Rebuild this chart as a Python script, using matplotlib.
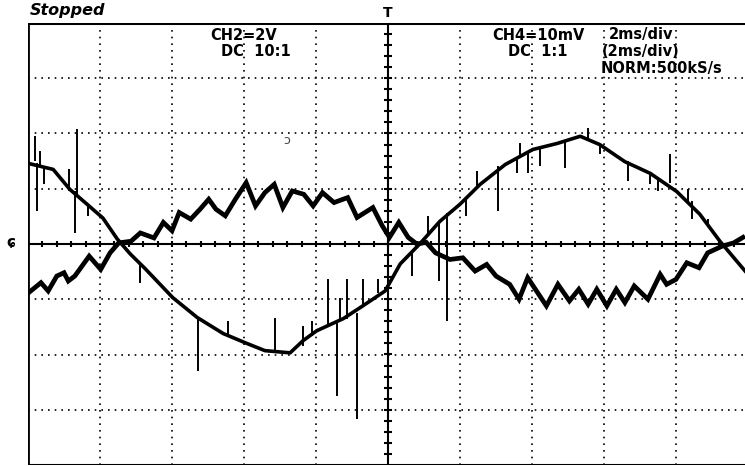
"""Oscilloscope capture: CH2 (line-to-neutral voltage) and CH4 (ripple current)."""
import numpy as np
import matplotlib.pyplot as plt

# screen units: time in divisions (2 ms/div), amplitude in divisions
ch2_t = [0.00, 0.35, 0.58, 0.82, 1.04, 1.24, 1.42, 1.63, 2.01, 2.35, 2.71, 3.04,
         3.29, 3.64, 3.82, 4.01, 4.38, 4.65, 4.96, 5.17, 5.44, 5.72, 6.00, 6.28,
         6.63, 7.01, 7.35, 7.67, 7.94, 8.29, 8.64, 9.01, 9.33, 9.61, 9.96]
ch2_v = [1.46, 1.35, 0.99, 0.72, 0.47, 0.09, -0.18, -0.45, -0.97, -1.33, -1.62, -1.80,
         -1.93, -1.97, -1.75, -1.57, -1.35, -1.12, -0.85, -0.36, 0.00, 0.41, 0.72, 1.08,
         1.44, 1.71, 1.82, 1.95, 1.80, 1.49, 1.28, 0.95, 0.54, 0.05, -0.49]

ch4_t = [0.01, 0.18, 0.28, 0.40, 0.50, 0.56, 0.65, 0.85, 1.01, 1.14, 1.26, 1.43,
         1.56, 1.75, 1.88, 2.00, 2.10, 2.26, 2.39, 2.51, 2.61, 2.74, 2.88, 3.03,
         3.16, 3.29, 3.42, 3.54, 3.67, 3.83, 3.96, 4.09, 4.25, 4.44, 4.57, 4.79,
         4.92, 5.02, 5.15, 5.28, 5.40, 5.53, 5.66, 5.86, 6.04, 6.21, 6.37, 6.50,
         6.69, 6.82, 6.94, 7.20, 7.36, 7.52, 7.65, 7.78, 7.90, 8.04, 8.17, 8.29,
         8.42, 8.61, 8.78, 8.87, 9.00, 9.15, 9.32, 9.44, 9.64, 9.80, 9.93]
ch4_v = [-0.88, -0.70, -0.85, -0.58, -0.52, -0.67, -0.58, -0.22, -0.46, -0.16, 0.02, 0.05,
         0.20, 0.11, 0.39, 0.24, 0.57, 0.45, 0.63, 0.81, 0.63, 0.51, 0.81, 1.11,
         0.69, 0.93, 1.08, 0.66, 0.96, 0.90, 0.69, 0.93, 0.75, 0.84, 0.48, 0.66,
         0.33, 0.12, 0.39, 0.12, 0.00, 0.03, -0.16, -0.28, -0.25, -0.49, -0.37, -0.58,
         -0.73, -1.00, -0.61, -1.12, -0.73, -1.03, -0.82, -1.09, -0.82, -1.12, -0.82, -1.06,
         -0.76, -1.00, -0.55, -0.73, -0.64, -0.34, -0.43, -0.16, -0.04, 0.02, 0.12]

# switching spikes on CH2: time, from, to
spike_t = [0.10, 0.125, 0.17, 0.22, 0.57, 0.65, 0.68, 0.83, 1.56, 2.36, 2.78, 3.43,
           3.82, 3.94, 4.17, 4.29, 4.33, 4.43, 4.57, 4.65, 4.86, 5.33, 5.56, 5.71,
           5.82, 6.08, 6.24, 6.53, 6.79, 6.83, 6.94, 7.11, 7.46, 7.78, 7.94, 8.33,
           8.64, 8.75, 8.92, 9.17, 9.22, 9.44]
spike_lo = [1.50, 0.60, 1.41, 1.08, 0.96, 0.20, 0.87, 0.51, -0.71, -2.30, -1.66, -1.93,
            -1.84, -1.66, -1.50, -2.75, -1.39, -1.36, -3.16, -1.14, -0.89, -0.58, 0.20, -0.67,
            -1.39, 0.51, 1.03, 0.60, 1.28, 1.57, 1.28, 1.41, 1.37, 1.90, 1.63, 1.14,
            1.08, 0.96, 1.10, 0.78, 0.45, 0.33]
spike_hi = [1.95, 1.46, 1.68, 1.41, 1.36, 0.96, 2.08, 0.69, -0.34, -1.36, -1.39, -1.34,
            -1.48, -1.39, -0.63, -1.39, -0.98, -0.63, -1.25, -0.63, -0.63, -0.13, 0.51, 0.38,
            0.56, 0.83, 1.32, 1.41, 1.56, 1.83, 1.65, 1.72, 1.84, 2.10, 1.81, 1.50,
            1.28, 1.21, 1.63, 0.99, 0.78, 0.45]

W, H = 745, 466
fig = plt.figure(figsize=(W / 100, H / 100), dpi=100)
x0, x1, y0, y1 = 28, 745, 23, 465
ax = fig.add_axes([x0 / W, 1 - y1 / H, (x1 - x0) / W, (y1 - y0) / H])
ax.set_xlim(0, (x1 - x0) / 72)
ax.set_ylim(-4, 4)
ax.axis("off")

# graticule
dot = (0, (1, 3))
for t in range(1, 10):
    if t != 5:
        ax.axvline(t, color="black", lw=1.2, ls=dot)
for v in range(-3, 4):
    if v != 0:
        ax.axhline(v, color="black", lw=1.2, ls=dot)
ax.axvline(5, color="black", lw=1.5)
ax.axhline(0, color="black", lw=1.5)
minor_t = np.arange(0.2, 10, 0.2)
ax.vlines(minor_t, -0.06, 0.06, color="black", lw=1.5)
minor_v = np.arange(-3.8, 4, 0.2)
ax.hlines(minor_v, 4.94, 5.06, color="black", lw=1.5)
# frame
ax.axvline(0, color="black", lw=2)
ax.axhline(4, color="black", lw=2.2)
ax.axhline(-4, color="black", lw=1.5)

# traces
ax.vlines(spike_t, spike_lo, spike_hi, color="black", lw=1.4)
ax.plot(ch2_t, ch2_v, color="black", lw=2.6, solid_joinstyle="round")
ax.plot(ch4_t, ch4_v, color="black", lw=3.4, solid_joinstyle="miter")

# annotations
bold = dict(fontsize=10.5, fontweight="bold", family="DejaVu Sans", color="black")
fig.text(30 / W, 1 - 11 / H, "Stopped", fontsize=11.5, fontweight="bold", style="italic",
         family="DejaVu Sans", va="center", ha="left")
fig.text(388 / W, 1 - 13 / H, "T", fontsize=10, fontweight="bold", va="center", ha="center")
fig.text(11 / W, 1 - 243 / H, "\u0255", fontsize=11, fontweight="bold", va="center", ha="center")
fig.text(287 / W, 1 - 140 / H, "\u0254", fontsize=9, color="#444444", va="center", ha="center")
fig.text(244 / W, 1 - 35 / H, "CH2=2V", ha="center", va="center", **bold)
fig.text(256 / W, 1 - 52 / H, "DC  10:1", ha="center", va="center", **bold)
fig.text(538 / W, 1 - 35 / H, "CH4=10mV", ha="center", va="center", **bold)
fig.text(538 / W, 1 - 52 / H, "DC  1:1", ha="center", va="center", **bold)
fig.text(641 / W, 1 - 35 / H, "2ms/div", ha="center", va="center", **bold)
fig.text(641 / W, 1 - 52 / H, "(2ms/div)", ha="center", va="center", **bold)
fig.text(661 / W, 1 - 69 / H, "NORM:500kS/s", ha="center", va="center", **bold)

fig.savefig("out.png", dpi=100)
